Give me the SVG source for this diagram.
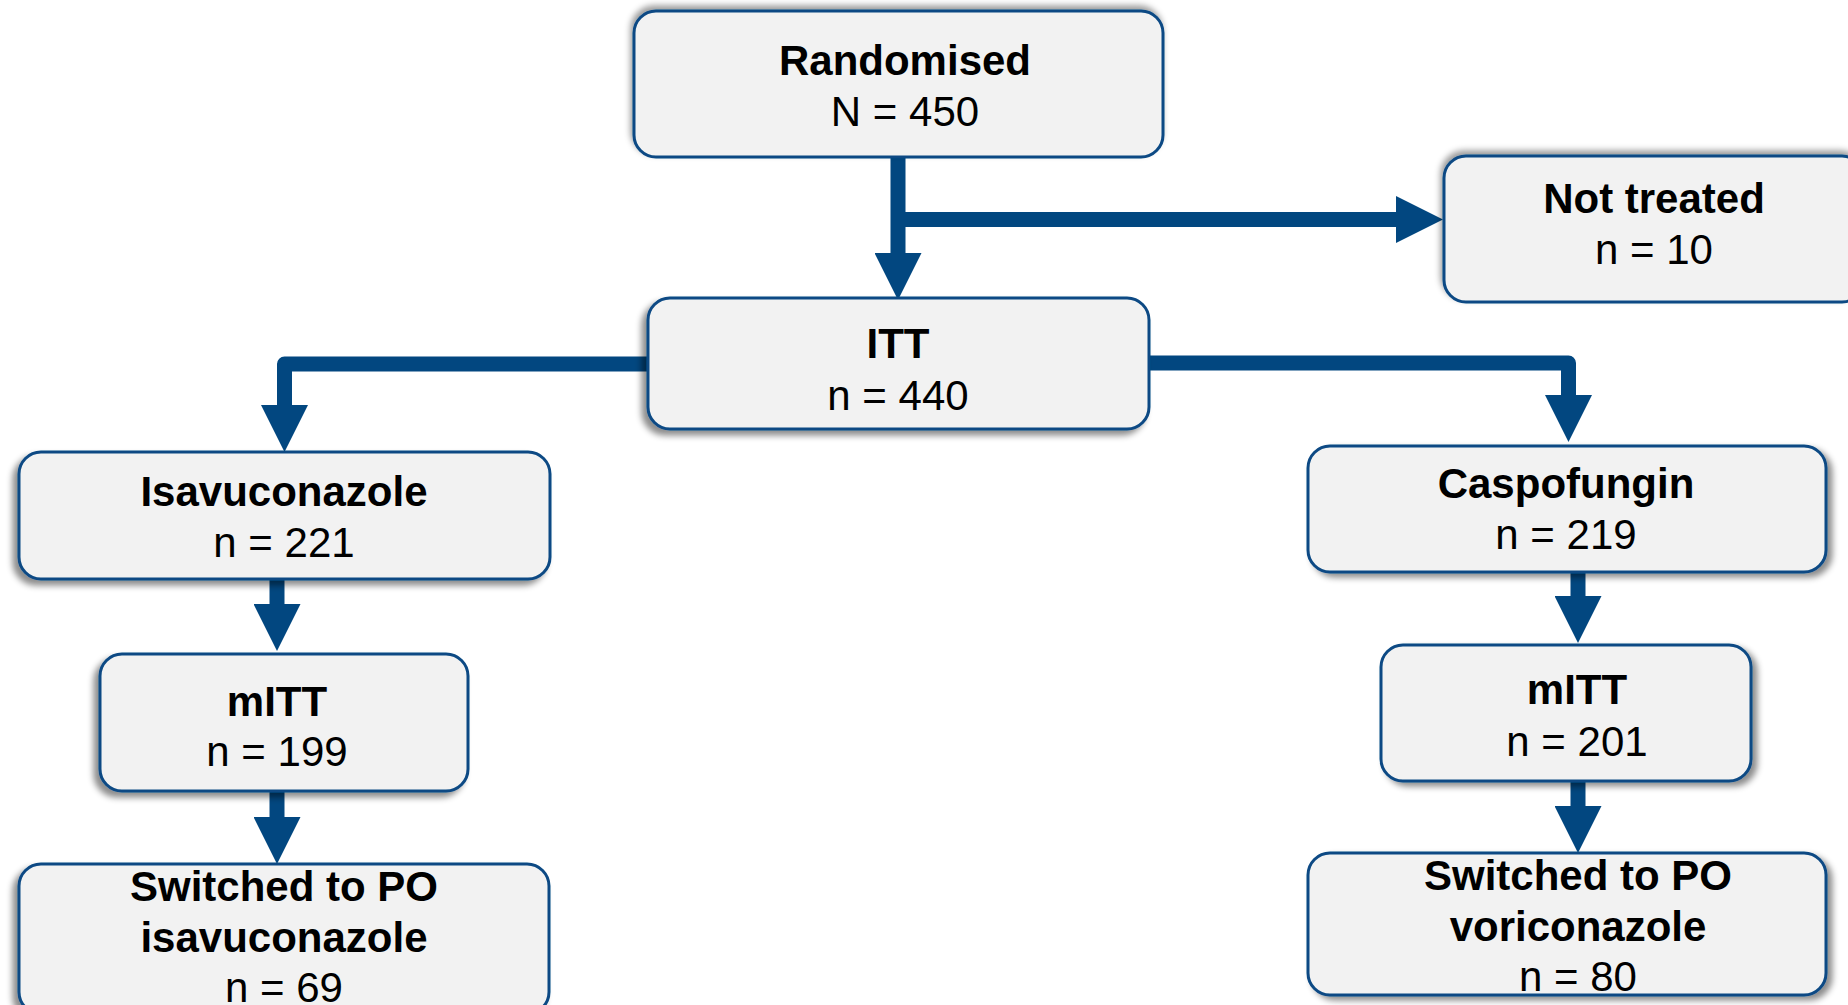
<svg xmlns="http://www.w3.org/2000/svg" width="1848" height="1005" viewBox="0 0 1848 1005">
<style>
  .box { fill: #f2f2f2; stroke: #0b4a84; stroke-width: 3; }
  .t { font-family: "Liberation Sans", Arial, sans-serif; font-size: 42px; fill: #000; text-anchor: middle; }
  .b { font-weight: bold; }
  .conn { fill: none; stroke: #024780; stroke-width: 15; stroke-linejoin: round; stroke-linecap: butt; marker-end: url(#head); }
</style>
<defs>
  <marker id="head" markerUnits="userSpaceOnUse" markerWidth="47" markerHeight="47" viewBox="0 0 47 47" refX="0" refY="23.5" orient="auto">
    <path d="M0,0 L47,23.5 L0,47 Z" fill="#024780"/>
  </marker>
  <filter id="shL" x="-10%" y="-15%" width="120%" height="135%">
    <feDropShadow dx="-5" dy="5" stdDeviation="3" flood-color="#000" flood-opacity="0.45"/>
  </filter>
  <filter id="shR" x="-10%" y="-15%" width="120%" height="135%">
    <feDropShadow dx="5" dy="4" stdDeviation="3" flood-color="#000" flood-opacity="0.45"/>
  </filter>
  <filter id="shU" x="-10%" y="-15%" width="120%" height="135%">
    <feDropShadow dx="-2" dy="-4" stdDeviation="3" flood-color="#000" flood-opacity="0.4"/>
  </filter>
</defs>
<rect width="1848" height="1005" fill="#ffffff"/>

<g id="connectors">
  <path class="conn" d="M898,157 L898,253"/>
  <path class="conn" d="M891,219.5 L1396,219.5"/>
  <path class="conn" d="M648,364 L284.5,364 L284.5,405"/>
  <path class="conn" d="M1149,363 L1568.5,363 L1568.5,395"/>
  <path class="conn" d="M277,579 L277,604"/>
  <path class="conn" d="M277,791 L277,817"/>
  <path class="conn" d="M1578,572 L1578,596"/>
  <path class="conn" d="M1578,781 L1578,806"/>
</g>

<g id="randomised">
  <rect class="box" x="634" y="11" width="529" height="146" rx="22" filter="url(#shU)"/>
  <text class="t b" x="905" y="75">Randomised</text>
  <text class="t" x="905" y="126">N = 450</text>
</g>
<g id="not_treated">
  <rect class="box" x="1444" y="156" width="420" height="146" rx="22" filter="url(#shU)"/>
  <text class="t b" x="1654" y="213">Not treated</text>
  <text class="t" x="1654" y="264">n = 10</text>
</g>
<g id="itt">
  <rect class="box" x="648" y="298" width="501" height="131" rx="22" filter="url(#shL)"/>
  <text class="t b" x="898" y="358">ITT</text>
  <text class="t" x="898" y="410">n = 440</text>
</g>
<g id="isavuconazole">
  <rect class="box" x="19" y="452" width="531" height="127" rx="22" filter="url(#shL)"/>
  <text class="t b" x="284" y="506">Isavuconazole</text>
  <text class="t" x="284" y="557">n = 221</text>
</g>
<g id="caspofungin">
  <rect class="box" x="1308" y="446" width="518" height="126" rx="22" filter="url(#shR)"/>
  <text class="t b" x="1566" y="498">Caspofungin</text>
  <text class="t" x="1566" y="549">n = 219</text>
</g>
<g id="mitt_left">
  <rect class="box" x="100" y="654" width="368" height="137" rx="22" filter="url(#shL)"/>
  <text class="t b" x="277" y="716">mITT</text>
  <text class="t" x="277" y="766">n = 199</text>
</g>
<g id="mitt_right">
  <rect class="box" x="1381" y="645" width="370" height="136" rx="22" filter="url(#shR)"/>
  <text class="t b" x="1577" y="704">mITT</text>
  <text class="t" x="1577" y="756">n = 201</text>
</g>
<g id="switched_left">
  <rect class="box" x="19" y="864" width="530" height="150" rx="22" filter="url(#shL)"/>
  <text class="t b" x="284" y="901">Switched to PO</text>
  <text class="t b" x="284" y="952">isavuconazole</text>
  <text class="t" x="284" y="1002">n = 69</text>
</g>
<g id="switched_right">
  <rect class="box" x="1308" y="853" width="518" height="142" rx="22" filter="url(#shR)"/>
  <text class="t b" x="1578" y="890">Switched to PO</text>
  <text class="t b" x="1578" y="941">voriconazole</text>
  <text class="t" x="1578" y="991">n = 80</text>
</g>
</svg>
